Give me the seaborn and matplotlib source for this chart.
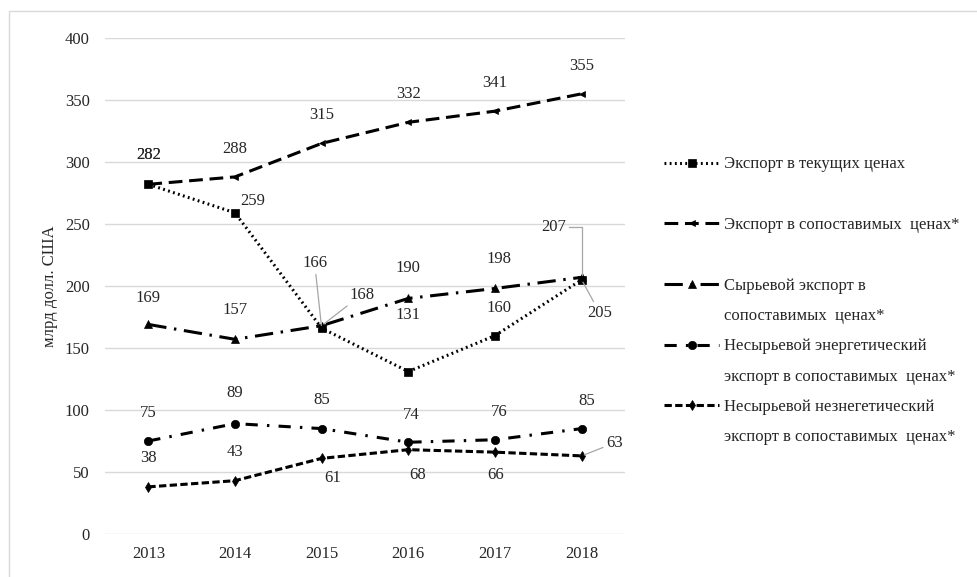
import pandas as pd
import matplotlib
matplotlib.use("Agg")
import matplotlib.pyplot as plt
from matplotlib.lines import Line2D
from matplotlib.patches import Rectangle
import seaborn as sns

# chart data
years = ['2013', '2014', '2015', '2016', '2017', '2018']
current = [282, 259, 166, 131, 160, 205]
comparable = [282, 288, 315, 332, 341, 355]
raw = [169, 157, 168, 190, 198, 207]
energy = [75, 89, 85, 74, 76, 85]
nonenergy = [38, 43, 61, 68, 66, 63]

names = [
    'Экспорт в текущих ценах',
    'Экспорт в сопоставимых  ценах*',
    ('Сырьевой экспорт в', 'сопоставимых  ценах*'),
    ('Несырьевой энергетический', 'экспорт в сопоставимых  ценах*'),
    ('Несырьевой незнегетический', 'экспорт в сопоставимых  ценах*'),
]
series = [current, comparable, raw, energy, nonenergy]

# line styles: (linestyle, marker, markersize)
styles = [
    ((0, (0.6, 1.1)), 's', 6),
    ((0, (4.5, 2.2)), '<', 5),
    ((0, (6, 2.5, 0.8, 2.5)), '^', 6),
    ((0, (4, 3, 0.8, 3)), 'o', 6),
    ((0, (2.4, 1.1)), 'd', 5),
]

# label offsets in pixels (dx, dy up), and where a leader line is drawn
offsets = [
    [(0, 29), (18, 12), (-7, 65), (0, 57), (4, 28), (18, -33)],
    [(0, 29), (0, 28), (0, 28), (0, 28), (0, 28), (0, 28)],
    [(0, 26), (0, 29), (40, 31), (0, 30), (4, 29), (-28, 50)],
    [(0, 28), (0, 31), (0, 29), (3, 27), (4, 28), (5, 28)],
    [(0, 29), (0, 29), (11, -20), (9, -25), (1, -23), (33, 13)],
]
leaders = {(0, 2): 'arc3', (0, 5): 'arc3', (2, 2): 'arc3',
           (2, 5): 'angle,angleA=0,angleB=90,rad=0', (4, 5): 'arc3'}

sns.set_theme(style='white')
plt.rcParams['font.family'] = ['Liberation Serif', 'DejaVu Serif']

fig = plt.figure(figsize=(9.77, 5.77), dpi=100)
ax = fig.add_axes([105 / 977, 1 - 534 / 577, 520 / 977, 496 / 577])

for i, vals in enumerate(series):
    ls, mk, ms = styles[i]
    df = pd.DataFrame({'x': range(len(years)), 'y': vals})
    sns.lineplot(data=df, x='x', y='y', ax=ax, color='black', linestyle=ls,
                 linewidth=2.2, marker=mk, markersize=ms,
                 markeredgecolor='black', markeredgewidth=0.5, legend=False)
    for j, v in enumerate(vals):
        dx, dy = offsets[i][j]
        arrow = None
        if (i, j) in leaders:
            arrow = dict(arrowstyle='-', color='#a6a6a6', lw=0.9,
                         shrinkA=0, shrinkB=2,
                         connectionstyle=leaders[(i, j)])
        ax.annotate(str(v), xy=(j, v), xytext=(dx, dy),
                    textcoords='offset pixels', ha='center', va='center',
                    fontsize=12, color='#262626', arrowprops=arrow)

ax.set_xlim(-0.5, len(years) - 0.5)
ax.set_ylim(0, 400)
ax.set_xticks(range(len(years)), years)
ax.set_yticks(range(0, 401, 50))
ax.grid(axis='y', color='#d9d9d9', lw=1)
ax.set_axisbelow(True)
for s in ax.spines.values():
    s.set_visible(False)
ax.tick_params(axis='y', length=0, pad=11, labelsize=12, labelcolor='#262626')
ax.tick_params(axis='x', length=0, pad=9, labelsize=12, labelcolor='#262626')
ax.set_xlabel('')
ax.set_ylabel('млрд долл. США', fontsize=12, color='#262626')
ax.yaxis.set_label_coords(-0.09, 0.5)

# legend: one row per text line
handles, labels = [], []
blank = Line2D([], [], linestyle='none')
for i, name in enumerate(names):
    ls, mk, ms = styles[i]
    h = Line2D([], [], color='black', linestyle=ls, linewidth=2.2, marker=mk,
               markersize=ms, markeredgecolor='black', markeredgewidth=0.5)
    handles += [h, blank]
    if isinstance(name, tuple):
        labels += [name[0], name[1]]
    else:
        labels += [name, ' ']
fig.legend(handles, labels, loc='upper left',
           bbox_to_anchor=(656 / 977, 1 - 148 / 577), frameon=False,
           fontsize=12, labelspacing=0.86, handlelength=3.3,
           handletextpad=0.3, borderpad=0, numpoints=1, labelcolor='#262626')

# outer chart frame
fig.patches.append(Rectangle((9 / 977, -0.1), 1.2, 1.1 - 11 / 577,
                             transform=fig.transFigure, fill=False,
                             edgecolor='#d9d9d9', lw=1))

fig.savefig('out.png', dpi=100)
